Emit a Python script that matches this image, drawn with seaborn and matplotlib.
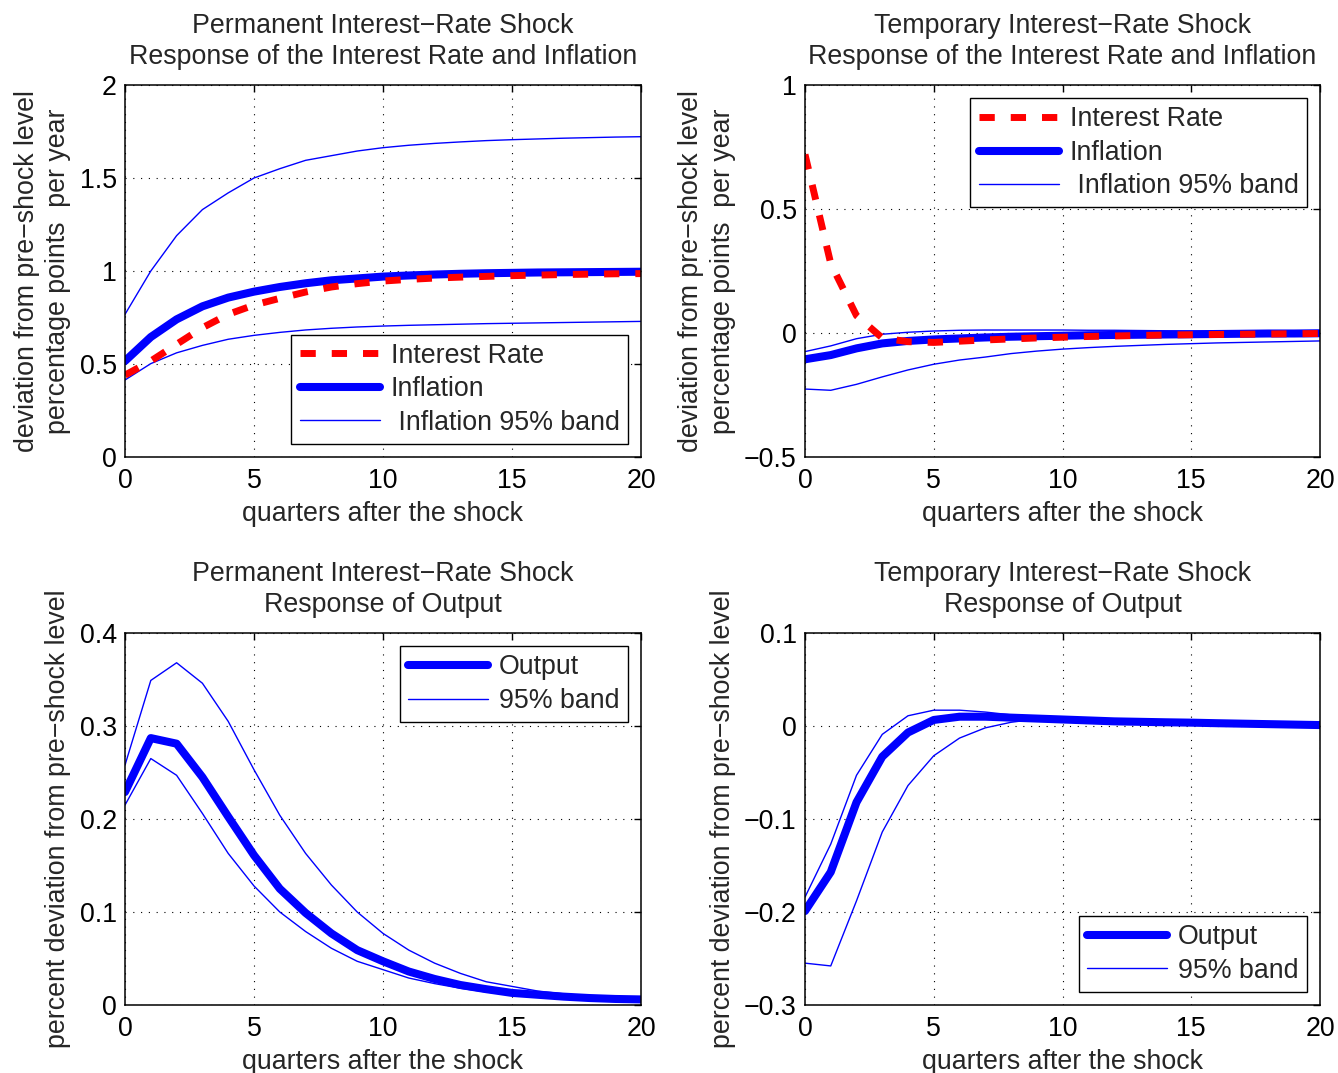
import numpy as np
import pandas as pd
import matplotlib
matplotlib.use("Agg")
import matplotlib.pyplot as plt
from matplotlib.ticker import FuncFormatter
import seaborn as sns

# ---------------- data ----------------
quarters = list(range(21))

perm_rate = [0.44, 0.516, 0.606, 0.695, 0.767, 0.817, 0.853, 0.887, 0.914, 0.932, 0.946,
             0.955, 0.962, 0.967, 0.971, 0.975, 0.978, 0.981, 0.983, 0.985, 0.986]
perm_infl = [0.516, 0.645, 0.74, 0.81, 0.857, 0.889, 0.914, 0.934, 0.95, 0.96, 0.97,
             0.976, 0.981, 0.985, 0.988, 0.99, 0.992, 0.993, 0.994, 0.995, 0.996]
perm_infl_hi = [0.767, 1.0, 1.19, 1.33, 1.42, 1.50, 1.55, 1.595, 1.62, 1.645, 1.663,
                1.676, 1.686, 1.694, 1.701, 1.706, 1.71, 1.714, 1.717, 1.72, 1.722]
perm_infl_lo = [0.414, 0.502, 0.56, 0.60, 0.633, 0.654, 0.67, 0.683, 0.692, 0.699, 0.704,
                0.708, 0.711, 0.714, 0.717, 0.719, 0.721, 0.723, 0.725, 0.727, 0.729]

temp_rate = [0.72, 0.28, 0.07, -0.02, -0.035, -0.038, -0.033, -0.028, -0.024, -0.02, -0.017,
             -0.014, -0.012, -0.01, -0.008, -0.007, -0.006, -0.005, -0.004, -0.003, -0.002]
temp_infl = [-0.106, -0.089, -0.062, -0.042, -0.032, -0.026, -0.022, -0.018, -0.015, -0.013, -0.011,
             -0.009, -0.008, -0.007, -0.006, -0.005, -0.004, -0.003, -0.002, -0.002, -0.001]
temp_infl_hi = [-0.075, -0.052, -0.023, -0.005, 0.003, 0.008, 0.011, 0.012, 0.012, 0.012, 0.012,
                0.011, 0.011, 0.010, 0.009, 0.008, 0.008, 0.007, 0.006, 0.006, 0.005]
temp_infl_lo = [-0.226, -0.231, -0.207, -0.177, -0.149, -0.126, -0.109, -0.097, -0.083, -0.073, -0.065,
                -0.059, -0.054, -0.05, -0.046, -0.043, -0.04, -0.038, -0.036, -0.034, -0.032]

perm_out = [0.229, 0.287, 0.281, 0.245, 0.2025, 0.161, 0.125, 0.099, 0.077, 0.059, 0.047,
            0.036, 0.028, 0.0215, 0.017, 0.013, 0.011, 0.009, 0.0075, 0.0065, 0.006]
perm_out_hi = [0.258, 0.349, 0.368, 0.346, 0.305, 0.253, 0.204, 0.163, 0.129, 0.100, 0.077,
               0.059, 0.045, 0.034, 0.025, 0.020, 0.015, 0.012, 0.0097, 0.008, 0.007]
perm_out_lo = [0.215, 0.265, 0.247, 0.206, 0.163, 0.128, 0.100, 0.079, 0.061, 0.047, 0.038,
               0.029, 0.023, 0.018, 0.014, 0.011, 0.009, 0.0075, 0.0065, 0.0055, 0.005]

temp_out = [-0.199, -0.157, -0.082, -0.033, -0.007, 0.0065, 0.010, 0.010, 0.009, 0.008, 0.007,
            0.006, 0.005, 0.0045, 0.004, 0.0036, 0.003, 0.0025, 0.002, 0.0015, 0.001]
temp_out_hi = [-0.184, -0.127, -0.053, -0.009, 0.011, 0.017, 0.017, 0.015, 0.012, 0.010, 0.008,
               0.007, 0.006, 0.005, 0.0045, 0.004, 0.0035, 0.003, 0.0025, 0.002, 0.0015]
temp_out_lo = [-0.255, -0.258, -0.188, -0.114, -0.064, -0.032, -0.013, -0.002, 0.004, 0.0075, 0.008,
               0.0075, 0.007, 0.006, 0.0055, 0.005, 0.0045, 0.004, 0.003, 0.0025, 0.002]

x_ticks = [0, 5, 10, 15, 20]
yticks_tl = [0, 0.5, 1, 1.5, 2]
yticks_tr = [-0.5, 0, 0.5, 1]
yticks_bl = [0, 0.1, 0.2, 0.3, 0.4]
yticks_br = [-0.3, -0.2, -0.1, 0, 0.1]

titles = ["Permanent Interest\u2212Rate Shock\nResponse of the Interest Rate and Inflation",
          "Temporary Interest\u2212Rate Shock\nResponse of the Interest Rate and Inflation",
          "Permanent Interest\u2212Rate Shock\nResponse of Output",
          "Temporary Interest\u2212Rate Shock\nResponse of Output"]
ylab_top = "deviation from pre\u2212shock level\npercentage points  per year"
ylab_bot = "percent deviation from pre\u2212shock level"
xlab = "quarters after the shock"

# ---------------- style ----------------
sns.set_theme(style="white")
plt.rcParams['font.family'] = ['Liberation Sans', 'DejaVu Sans']
plt.rcParams['axes.unicode_minus'] = True
FS = 19.3

fig = plt.figure(figsize=(13.38, 10.73), dpi=100)
W, H = 1338, 1073
def axpos(x0, y0, x1, y1):
    return [x0 / W, 1 - y1 / H, (x1 - x0) / W, (y1 - y0) / H]

ax_tl = fig.add_axes(axpos(125, 85, 641, 457))
ax_tr = fig.add_axes(axpos(805, 85, 1320, 457))
ax_bl = fig.add_axes(axpos(125, 633, 641, 1005))
ax_br = fig.add_axes(axpos(805, 633, 1320, 1005))

BLUE = (0, 0, 1)
RED = (1, 0, 0)
THICK = 5.8
DASHW = 5.0
THIN = 1.0

def fmt(v, pos):
    return ("%g" % round(v, 6)).replace("-", "\u2212")

def style_axes(ax, yticks, title, ylabel):
    ax.set_xlim(0, 20)
    ax.set_ylim(min(yticks), max(yticks))
    ax.set_xticks(x_ticks)
    ax.set_yticks(yticks)
    ax.xaxis.set_major_formatter(FuncFormatter(fmt))
    ax.yaxis.set_major_formatter(FuncFormatter(fmt))
    ax.grid(True, color='black', linestyle=(0, (1, 6)), linewidth=0.8)
    ax.tick_params(direction='in', top=True, right=True, length=5, width=1,
                   labelsize=FS, colors='black', pad=6)
    ax.tick_params(axis='x', pad=8)
    for sp in ax.spines.values():
        sp.set_visible(True)
        sp.set_color('black')
        sp.set_linewidth(1.1)
    ax.set_facecolor('white')
    ax.set_title(title, fontsize=FS, pad=15, linespacing=1.27)
    ax.set_xlabel(xlab, fontsize=FS, labelpad=5)
    ax.set_ylabel(ylabel, fontsize=FS, labelpad=6, linespacing=1.27)

def make_legend(ax, handles, labels, loc):
    leg = ax.legend(handles, labels, loc=loc, fontsize=FS, frameon=True,
                    fancybox=False, framealpha=1, edgecolor='black', handlelength=3.0,
                    handletextpad=0.4, borderpad=0.3, labelspacing=0.28, borderaxespad=0.5)
    leg.get_frame().set_linewidth(1.0)

def rate_infl_panel(ax, rate, infl, hi, lo, loc):
    sns.lineplot(x=quarters, y=infl, ax=ax, color=BLUE, linewidth=THICK, label="Inflation")
    sns.lineplot(x=quarters, y=hi, ax=ax, color=BLUE, linewidth=THIN, label=" Inflation 95% band")
    sns.lineplot(x=quarters, y=lo, ax=ax, color=BLUE, linewidth=THIN, label="_nolegend_")
    sns.lineplot(x=quarters, y=rate, ax=ax, color=RED, linewidth=DASHW, label="Interest Rate")
    ax.lines[-1].set_dashes([2.2, 2.3])
    ax.lines[-1].set_dash_capstyle('butt')
    h, l = ax.get_legend_handles_labels()
    d = dict(zip(l, h))
    order = ["Interest Rate", "Inflation", " Inflation 95% band"]
    make_legend(ax, [d[k] for k in order], order, loc)

def output_panel(ax, out, hi, lo, loc):
    sns.lineplot(x=quarters, y=hi, ax=ax, color=BLUE, linewidth=THIN, label="95% band")
    sns.lineplot(x=quarters, y=lo, ax=ax, color=BLUE, linewidth=THIN, label="_nolegend_")
    sns.lineplot(x=quarters, y=out, ax=ax, color=BLUE, linewidth=THICK, label="Output")
    h, l = ax.get_legend_handles_labels()
    d = dict(zip(l, h))
    order = ["Output", "95% band"]
    make_legend(ax, [d[k] for k in order], order, loc)

rate_infl_panel(ax_tl, perm_rate, perm_infl, perm_infl_hi, perm_infl_lo, 'lower right')
rate_infl_panel(ax_tr, temp_rate, temp_infl, temp_infl_hi, temp_infl_lo, 'upper right')
output_panel(ax_bl, perm_out, perm_out_hi, perm_out_lo, 'upper right')
output_panel(ax_br, temp_out, temp_out_hi, temp_out_lo, 'lower right')

style_axes(ax_tl, yticks_tl, titles[0], ylab_top)
style_axes(ax_tr, yticks_tr, titles[1], ylab_top)
style_axes(ax_bl, yticks_bl, titles[2], ylab_bot)
style_axes(ax_br, yticks_br, titles[3], ylab_bot)

fig.savefig("out.png", dpi=100, facecolor='white')
